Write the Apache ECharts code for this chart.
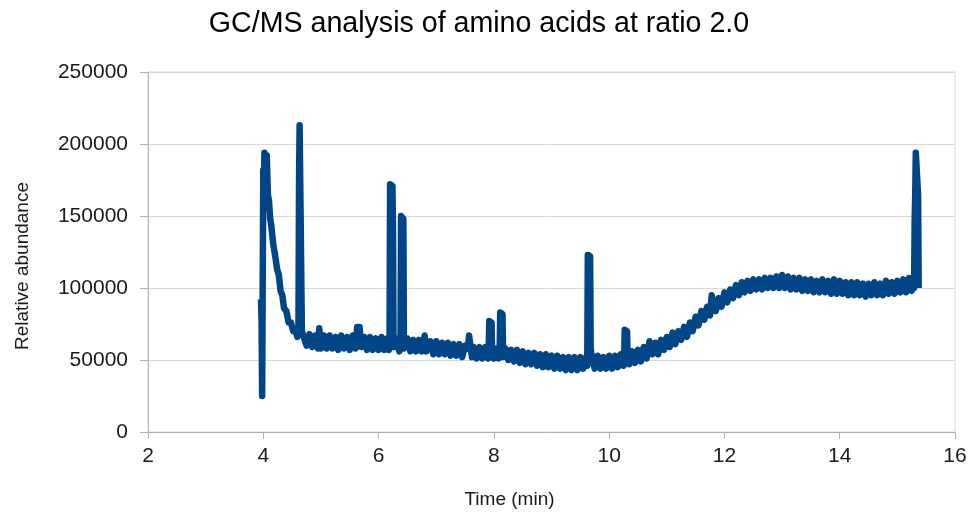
<!DOCTYPE html>
<html>
<head>
<meta charset="utf-8">
<title>GC/MS analysis of amino acids at ratio 2.0</title>
<script src="https://cdn.jsdelivr.net/npm/echarts@6/dist/echarts.min.js"></script>
<style>
  html, body { margin: 0; padding: 0; background: #ffffff; }
  #chart { width: 974px; height: 521px; }
</style>
</head>
<body>
<div id="chart"></div>
<script>
// x axis ticks (min) and y axis ticks (abundance)
const timeTicks = [2, 4, 6, 8, 10, 12, 14, 16];
const abundanceTicks = [0, 50000, 100000, 150000, 200000, 250000];

// trace, [time in min, relative abundance]
// solvent front and the first two big peaks
const solventFront = [
    [3.96, 92000], [3.97, 78000], [3.98, 25000], [3.99, 26000], [4.00, 182000],
    [4.01, 170000], [4.02, 194000], [4.04, 193000], [4.05, 178000], [4.06, 192000],
    [4.08, 165000], [4.10, 160000], [4.12, 148000], [4.14, 143000], [4.17, 131000],
    [4.20, 124000], [4.24, 113000], [4.27, 109000], [4.30, 98000], [4.33, 95000],
    [4.36, 86000], [4.40, 84000], [4.44, 76000], [4.48, 76000], [4.52, 70000],
    [4.56, 71000], [4.59, 66000], [4.61, 68000], [4.62, 172000], [4.63, 213000],
    [4.66, 212000], [4.67, 70000], [4.70, 69000], [4.75, 60000], [4.80, 68000],
    [4.85, 59000], [4.90, 67000], [4.95, 58000], [4.96, 64000], [4.97, 72000],
    [4.99, 72000], [5.00, 58000]
];

// flat part with the small peaks around 6.2-6.4 and 7.9-8.1
const earlyBaseline = [
    [5.05, 67000], [5.10, 58000], [5.15, 67000], [5.20, 58000], [5.25, 66000],
    [5.30, 57000], [5.35, 67000], [5.40, 58000], [5.45, 66000], [5.50, 57000],
    [5.55, 67000], [5.60, 58000], [5.63, 73000], [5.67, 73000], [5.70, 59000],
    [5.75, 66000], [5.80, 57000], [5.85, 66000], [5.90, 57000], [5.95, 65000],
    [6.00, 57000], [6.05, 66000], [6.10, 57000], [6.15, 65000], [6.18, 57000],
    [6.19, 60000], [6.20, 172000], [6.24, 171000], [6.25, 143000], [6.26, 59000],
    [6.30, 65000], [6.36, 56000], [6.38, 60000], [6.39, 150000], [6.43, 148000],
    [6.44, 58000], [6.50, 65000], [6.55, 56000], [6.60, 64000], [6.65, 56000],
    [6.70, 64000], [6.75, 56000], [6.80, 67000], [6.83, 56000], [6.90, 63000],
    [6.95, 54000], [7.00, 63000], [7.05, 54000], [7.10, 62000], [7.15, 54000],
    [7.20, 62000], [7.25, 53000], [7.30, 61000], [7.35, 53000], [7.40, 61000],
    [7.45, 52000], [7.50, 60000], [7.55, 58000], [7.57, 67000], [7.60, 66000],
    [7.62, 52000], [7.65, 59000], [7.70, 51000], [7.75, 59000], [7.80, 51000],
    [7.85, 59000], [7.90, 51000], [7.91, 56000], [7.92, 77000], [7.96, 76000],
    [7.97, 53000], [8.00, 51000], [8.05, 58000], [8.08, 51000], [8.10, 55000],
    [8.11, 83000], [8.15, 82000], [8.16, 52000]
];

// the dip around 9-10 min with peaks at 9.65 and 10.3
const midBaseline = [
    [8.20, 58000], [8.25, 50000], [8.30, 57000], [8.35, 49000], [8.40, 57000],
    [8.45, 48000], [8.50, 56000], [8.55, 47000], [8.60, 55000], [8.65, 47000],
    [8.70, 55000], [8.75, 46000], [8.80, 54000], [8.85, 45000], [8.90, 54000],
    [8.95, 45000], [9.00, 53000], [9.05, 44000], [9.10, 53000], [9.15, 44000],
    [9.20, 52000], [9.25, 43000], [9.30, 52000], [9.35, 43000], [9.40, 52000],
    [9.45, 43000], [9.50, 52000], [9.55, 44000], [9.60, 52000], [9.62, 46000],
    [9.63, 123000], [9.67, 122000], [9.68, 58000], [9.70, 52000], [9.75, 44000],
    [9.80, 53000], [9.85, 44000], [9.90, 52000], [9.95, 44000], [10.00, 53000],
    [10.05, 44000], [10.10, 53000], [10.15, 45000], [10.20, 54000], [10.25, 46000],
    [10.26, 51000], [10.27, 71000], [10.31, 70000], [10.32, 55000], [10.35, 47000],
    [10.40, 56000], [10.45, 48000], [10.50, 57000], [10.55, 49000], [10.60, 59000],
    [10.65, 51000], [10.70, 63000], [10.75, 54000]
];

// rise from 10.8 to 12.5 min
const lateRise = [
    [10.80, 62000], [10.85, 54000], [10.90, 64000], [10.95, 57000], [11.00, 66000],
    [11.05, 59000], [11.10, 69000], [11.15, 61000], [11.20, 70000], [11.25, 64000],
    [11.30, 73000], [11.35, 66000], [11.40, 76000], [11.45, 70000], [11.50, 80000],
    [11.55, 74000], [11.60, 84000], [11.65, 78000], [11.70, 87000], [11.75, 81000],
    [11.78, 95000], [11.80, 89000], [11.85, 84000], [11.90, 93000], [11.95, 87000],
    [12.00, 97000], [12.05, 90000], [12.10, 99000], [12.15, 93000], [12.20, 102000],
    [12.25, 95000], [12.30, 104000], [12.35, 97000], [12.40, 105000], [12.45, 98000]
];

// plateau and the final peak
const plateau = [
    [12.50, 106000], [12.55, 99000], [12.60, 106000], [12.65, 99000], [12.70, 107000],
    [12.75, 100000], [12.80, 107000], [12.85, 100000], [12.90, 108000], [12.95, 100000],
    [13.00, 109000], [13.05, 100000], [13.10, 108000], [13.15, 99000], [13.20, 107000],
    [13.25, 99000], [13.30, 107000], [13.35, 98000], [13.40, 106000], [13.45, 98000],
    [13.50, 106000], [13.55, 97000], [13.60, 105000], [13.65, 97000], [13.70, 106000],
    [13.75, 97000], [13.80, 105000], [13.85, 96000], [13.90, 106000], [13.95, 96000],
    [14.00, 105000], [14.05, 96000], [14.10, 104000], [14.15, 95000], [14.20, 104000],
    [14.25, 95000], [14.30, 104000], [14.35, 95000], [14.40, 103000], [14.45, 94000],
    [14.50, 103000], [14.55, 95000], [14.60, 104000], [14.65, 95000], [14.70, 103000],
    [14.75, 95000], [14.80, 105000], [14.85, 96000], [14.90, 104000], [14.95, 96000],
    [15.00, 105000], [15.05, 97000], [15.10, 106000], [15.15, 97000], [15.20, 107000],
    [15.25, 98000], [15.28, 106000], [15.29, 100000], [15.30, 146000], [15.31, 165000],
    [15.32, 194000], [15.35, 193000], [15.36, 164000], [15.37, 100000]
];

const trace = [].concat(solventFront, earlyBaseline, midBaseline, lateRise, plateau);

const chart = echarts.init(document.getElementById('chart'));

const textColor = '#1a1a1a';
const gridColor = '#d9d9d9';
const axisColor = '#b3b3b3';

const option = {
    animation: false,
    backgroundColor: '#ffffff',
    title: {
        text: 'GC/MS analysis of amino acids at ratio 2.0',
        left: 474,
        top: 5,
        textAlign: 'center',
        textStyle: {
            fontFamily: 'Liberation Sans, Arial, sans-serif',
            fontSize: 28.6,
            fontWeight: 'normal',
            color: '#000000'
        }
    },
    grid: {
        left: 148,
        right: 19,
        top: 72,
        bottom: 89,
        show: true,
        borderColor: gridColor,
        borderWidth: 1
    },
    xAxis: {
        type: 'value',
        min: timeTicks[0],
        max: timeTicks[timeTicks.length - 1],
        interval: 2,
        name: 'Time (min)',
        nameLocation: 'middle',
        nameGap: 58,
        nameTextStyle: {
            fontFamily: 'Liberation Sans, Arial, sans-serif',
            fontSize: 19,
            color: textColor,
            padding: [0, 84, 0, 0]
        },
        axisLine: { show: true, lineStyle: { color: axisColor, width: 1 } },
        axisTick: { show: true, length: 7, lineStyle: { color: axisColor } },
        axisLabel: {
            margin: 14,
            fontFamily: 'Liberation Sans, Arial, sans-serif',
            fontSize: 21,
            color: textColor,
            formatter: v => timeTicks.includes(v) ? String(v) : ''
        },
        splitLine: { show: false }
    },
    yAxis: {
        type: 'value',
        min: abundanceTicks[0],
        max: abundanceTicks[abundanceTicks.length - 1],
        interval: 50000,
        name: 'Relative abundance',
        nameLocation: 'middle',
        nameGap: 116,
        nameRotate: 90,
        nameTextStyle: {
            fontFamily: 'Liberation Sans, Arial, sans-serif',
            fontSize: 19,
            color: textColor,
            padding: [0, 28, 0, 0]
        },
        axisLine: { show: true, lineStyle: { color: axisColor, width: 1 } },
        axisTick: { show: true, length: 8, lineStyle: { color: axisColor } },
        axisLabel: {
            margin: 20,
            fontFamily: 'Liberation Sans, Arial, sans-serif',
            fontSize: 21,
            color: textColor,
            formatter: v => String(v)
        },
        splitLine: { show: true, lineStyle: { color: gridColor, width: 1 } }
    },
    series: [{
        type: 'line',
        data: trace,
        showSymbol: false,
        symbol: 'none',
        sampling: 'none',
        lineStyle: { color: '#004586', width: 6.5, cap: 'butt', join: 'round' }
    }]
};

chart.setOption(option);
</script>
</body>
</html>
